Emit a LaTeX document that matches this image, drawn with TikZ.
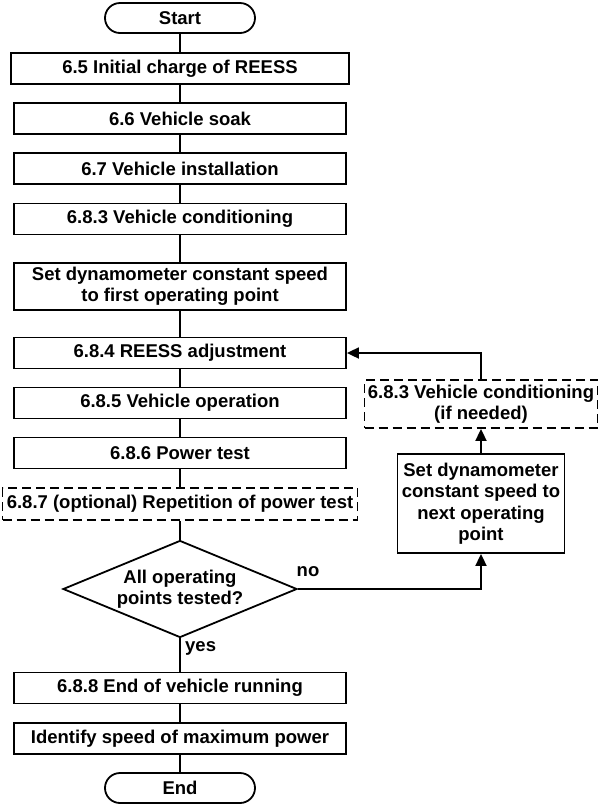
\documentclass[tikz,border=0pt]{standalone}
\usepackage{fontspec}
\setmainfont{Liberation Sans}
\usetikzlibrary{shapes.geometric,arrows.meta}
\begin{document}
\begin{tikzpicture}[x=1pt,y=-1pt,
  every node/.style={font=\fontsize{18.5}{21.5}\selectfont\bfseries, align=center, inner sep=0pt},
  box/.style={draw, line width=1.8pt, minimum width=332pt, minimum height=31pt},
  dbox/.style={box, dash pattern=on 9pt off 5pt},
  term/.style={draw, line width=1.8pt, rounded corners=15pt, minimum width=150pt, minimum height=30pt},
  decision/.style={draw, diamond, aspect=2.4, line width=1.8pt, minimum width=234pt, minimum height=97pt},
  link/.style={line width=1.8pt},
  arrow/.style={link, -{Triangle[length=12pt,width=11pt]}}]
\useasboundingbox (0,0) rectangle (600,804);

% main column
\node[term] (start) at (180,18) {Start};
\node[box, minimum width=338pt] (n65) at (180,68.5) {6.5 Initial charge of REESS};
\node[box] (n66) at (180,118.5) {6.6 Vehicle soak};
\node[box] (n67) at (180,168.5) {6.7 Vehicle installation};
\node[box] (n683) at (180,219) {6.8.3 Vehicle conditioning};
\node[box, minimum height=47pt] (setfirst) at (180,286.5) {Set dynamometer constant speed\\to first operating point};
\node[box] (n684) at (180,353) {6.8.4 REESS adjustment};
\node[box] (n685) at (180,403) {6.8.5 Vehicle operation};
\node[box] (n686) at (180,453) {6.8.6 Power test};
\node[dbox, minimum width=355pt, minimum height=32pt] (n687) at (180,504) {6.8.7 (optional) Repetition of power test};
\node[decision] (dec) at (180,589) {All operating\\points tested?};
\node[box] (n688) at (180,688) {6.8.8 End of vehicle running};
\node[box] (ident) at (180,738.5) {Identify speed of maximum power};
\node[term] (end) at (180,788) {End};

% loop back column
\node[dbox, minimum width=233pt, minimum height=48pt] (n683b) at (481,404) {6.8.3 Vehicle conditioning\\(if needed)};
\node[box, minimum width=167pt, minimum height=99pt] (setnext) at (481,503.5) {Set dynamometer\\constant speed to\\next operating\\point};

% branch labels
\node[anchor=west] (yes) at (185,648) {yes};
\node (no) at (308,572) {no};

% connectors
\draw[link] (start) -- (n65);
\draw[link] (n65) -- (n66);
\draw[link] (n66) -- (n67);
\draw[link] (n67) -- (n683);
\draw[link] (n683) -- (setfirst);
\draw[link] (setfirst) -- (n684);
\draw[link] (n684) -- (n685);
\draw[link] (n685) -- (n686);
\draw[link] (n686) -- (n687);
\draw[link] (n687) -- (dec);
\draw[link] (dec) -- (n688);
\draw[link] (n688) -- (ident);
\draw[link] (ident) -- (end);
\draw[arrow] (dec.east) -| (setnext.south);
\draw[arrow] (setnext) -- (n683b);
\draw[arrow] (n683b.north) |- (n684.east);
\end{tikzpicture}
\end{document}
